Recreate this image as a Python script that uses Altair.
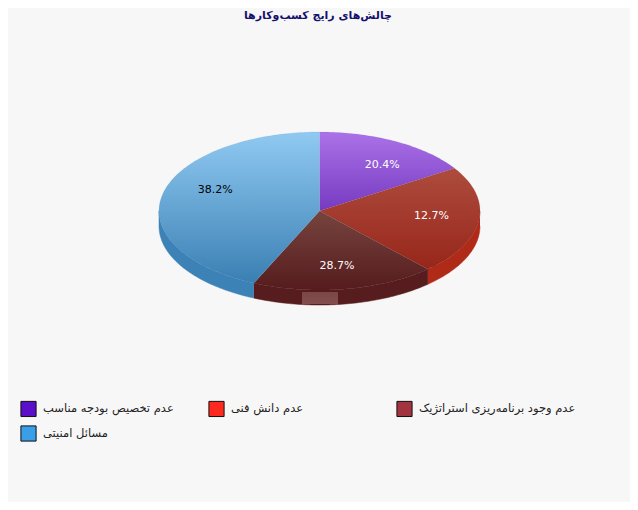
import math
import altair as alt
import pandas as pd

title = "چالش‌های رایج کسب‌وکارها"
categories = ["عدم تخصیص بودجه مناسب", "عدم دانش فنی", "عدم وجود برنامه‌ریزی  استراتژیک", "مسائل امنیتی"]
slice_shares = [15.9, 22.3, 18.5, 43.3]
printed_labels = ["20.4%", "12.7%", "28.7%", "38.2%"]
label_angles = [34, 95, 171, 292]
label_colors = ["white", "white", "white", "black"]
legend_colors = ["#5a0fc8", "#ff2a1f", "#a2343f", "#3a9fe8"]
top_gradients = [("#ab72e8", "#763ac0"), ("#ad4c3e", "#97261a"), ("#76443f", "#561c1d"), ("#90caf2", "#3a7fb3")]
side_colors = ["#6a30b0", "#b02a18", "#571c1d", "#3c82b6"]

BG = "#f7f7f7"
FONT = "DejaVu Sans"
DEPTH = 0.19

def arc(a, b):
    n = max(2, int(abs(b - a)) + 1)
    return [a + (b - a) * i / (n - 1) for i in range(n)]

tops, sides = [], []
start = 0.0
for cat, share in zip(categories, slice_shares):
    end = start + share * 3.6
    order = 0
    tops.append((cat, order, 0.0, 0.0)); order += 1
    for t in arc(start, end):
        r = math.radians(t)
        tops.append((cat, order, math.sin(r), math.cos(r))); order += 1
    lo, hi = max(start, 90), min(end, 270)
    if hi > lo:
        order = 0
        ts = arc(lo, hi)
        for t in ts:
            r = math.radians(t)
            sides.append((cat, order, math.sin(r), math.cos(r))); order += 1
        for t in reversed(ts):
            r = math.radians(t)
            sides.append((cat, order, math.sin(r), math.cos(r) - DEPTH)); order += 1
    start = end

cols = ["cat", "o", "x", "y"]
top_df = pd.DataFrame(tops, columns=cols)
side_df = pd.DataFrame(sides, columns=cols)

x_s = alt.Scale(domain=[-1, 1], range=[151, 472])
y_s = alt.Scale(domain=[-1, 1], range=[260, 102])
X = alt.X("x:Q", scale=x_s, axis=None)
Y = alt.Y("y:Q", scale=y_s, axis=None)

layers = []
for cat, col in zip(categories, side_colors):
    d = side_df[side_df.cat == cat]
    if len(d):
        layers.append(alt.Chart(d).mark_line(fill=col, stroke=col, strokeWidth=0.5).encode(x=X, y=Y, order="o:Q"))
for cat, (c1, c2) in zip(categories, top_gradients):
    grad = alt.Gradient(gradient="linear", x1=0, x2=0, y1=0, y2=1,
                        stops=[alt.GradientStop(color=c1, offset=0), alt.GradientStop(color=c2, offset=1)])
    d = top_df[top_df.cat == cat]
    layers.append(alt.Chart(d).mark_line(fill=grad, stroke=c2, strokeWidth=0.3, strokeOpacity=0.4).encode(x=X, y=Y, order="o:Q"))

# pale blurred patch on the lower edge of the brown slice
patch_fill = alt.Gradient(gradient="linear", x1=0, x2=0, y1=0, y2=1,
                          stops=[alt.GradientStop(color="#c8a0a0", offset=0),
                                 alt.GradientStop(color="#e0b8b8", offset=1)])
layers.append(alt.Chart(pd.DataFrame({"k": [0]})).mark_rect(
    fill=patch_fill, opacity=0.32).encode(
    x=alt.value(294), x2=alt.value(330), y=alt.value(262), y2=alt.value(274)))

lab = pd.DataFrame({
    "x": [0.7 * math.sin(math.radians(a)) for a in label_angles],
    "y": [0.7 * math.cos(math.radians(a)) for a in label_angles],
    "t": printed_labels,
    "c": label_colors,
})
layers.append(alt.Chart(lab).mark_text(font=FONT, fontSize=11).encode(
    x=X, y=Y, text="t:N", color=alt.Color("c:N", scale=None)))

legend_df = pd.DataFrame({"cat": categories, "x": [0, 0, 0, 0], "y": [0, 0, 0, 0]})
layers.append(alt.Chart(legend_df).mark_point(filled=True, size=0, opacity=0).encode(
    x=X, y=Y,
    fill=alt.Fill("cat:N", sort=None,
        scale=alt.Scale(domain=categories, range=legend_colors),
        legend=alt.Legend(title=None, orient="none", legendX=12, legendY=370, columns=3,
            direction="horizontal", gridAlign="all", columnPadding=3, rowPadding=4,
            symbolType="square", symbolSize=230, symbolStrokeColor="#111111", symbolStrokeWidth=1,
            symbolOpacity=1, labelOpacity=1,
            labelFont=FONT, labelFontSize=11.5, labelColor="#222222", labelLimit=300, labelOffset=6))))

chart = alt.layer(*layers).properties(
    width=622, height=472, background=BG,
    padding={"left": 0, "right": 0, "top": 22, "bottom": 0},
    autosize=alt.AutoSizeParams(type="none"),
    title=alt.TitleParams(title, font=FONT, fontSize=11, fontWeight="bold", color="#14106e",
                          anchor="middle", offset=9, dx=-1),
).configure_view(stroke=None)

chart.save("out.html", embed_options={"renderer": "svg", "actions": False})
